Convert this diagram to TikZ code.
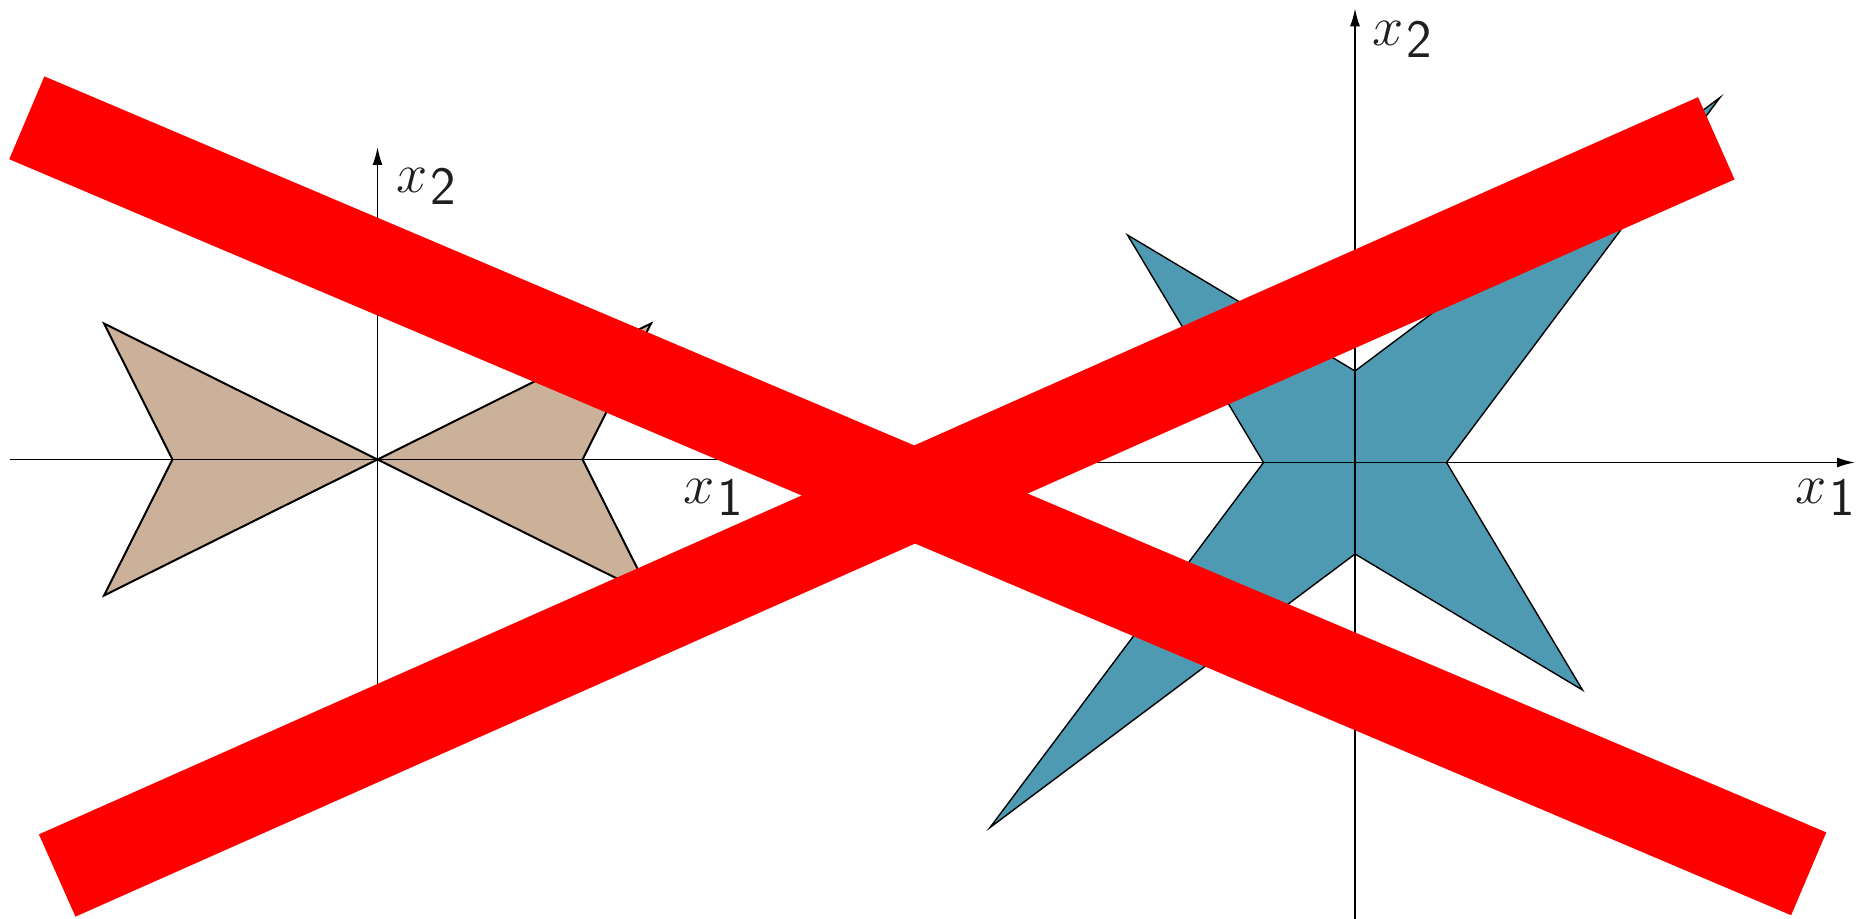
\documentclass[tikz,border=0pt]{standalone}
\usepackage{graphicx}
\usetikzlibrary{arrows.meta,calc}
\definecolor{tanfill}{RGB}{203,177,154}
\definecolor{bluefill}{RGB}{78,154,178}
\definecolor{crossred}{RGB}{255,0,0}
\tikzset{
  axis/.style={line width=0.9pt,-{Latex[length=9pt,width=5pt]}},
  tanshape/.style={fill=tanfill,draw=black,line width=1pt,line join=miter},
  blueshape/.style={fill=bluefill,draw=black,line width=0.7pt,line join=miter},
  crossband/.style={line width=45pt,crossred,line cap=butt},
  axlabel/.style={anchor=base west,inner sep=0pt,text=black!88}
}
\newcommand{\axlab}[1]{{\fontsize{20}{24}\selectfont\scalebox{1.35}{$x$}}\kern1.5pt\raisebox{-6pt}{\fontsize{27}{32}\selectfont\textsf{#1}}}
\begin{document}
\begin{tikzpicture}[x=0.5pt,y=-0.5pt]
\useasboundingbox (0,0) rectangle (1861,919);
% left figure
\coordinate (O1) at (377.5,459.5);
\filldraw[tanshape] (O1) -- (104,323.5) -- (172.5,459.5) -- (104,595.5) -- (O1)
  -- (651,595.5) -- (582.5,459.5) -- (651,323.5) -- cycle;
\coordinate (L1s) at (9.6,459.5);
\coordinate (L1e) at (746,459.5);
\coordinate (L2s) at (377.5,760);
\coordinate (L2e) at (377.5,147);
\draw[axis] (L1s) -- (L1e);
\draw[axis] (L2s) -- (L2e);
\node[axlabel] (lx1) at (683,503) {\axlab{1}};
\node[axlabel] (lx2) at (396,193) {\axlab{2}};
% right figure
\coordinate (O2) at (1355,462.5);
\filldraw[blueshape] ($(O2)+(-91.5,0)$) -- ($(O2)+(-227.5,-227.5)$) -- ($(O2)+(0,-91.5)$)
  -- ($(O2)+(365,-365)$) -- ($(O2)+(91.5,0)$) -- ($(O2)+(227.5,227.5)$)
  -- ($(O2)+(0,91.5)$) -- ($(O2)+(-365,365)$) -- cycle;
\coordinate (R1s) at (855,462.5);
\coordinate (R1e) at (1855,462.5);
\coordinate (R2s) at (1355,919);
\coordinate (R2e) at (1355,8.3);
\draw[axis] (R1s) -- (R1e);
\draw[axis] (R2s) -- (R2e);
\node[axlabel] (rx1) at (1795,503) {\axlab{1}};
\node[axlabel] (rx2) at (1372,46) {\axlab{2}};
% red cross
\coordinate (A1) at (26.8,117.8);
\coordinate (A2) at (1808.7,873.8);
\coordinate (B1) at (57.2,875.5);
\coordinate (B2) at (1716.3,138.3);
\draw[crossband] (A1) -- (A2);
\draw[crossband] (B1) -- (B2);
\end{tikzpicture}
\end{document}
